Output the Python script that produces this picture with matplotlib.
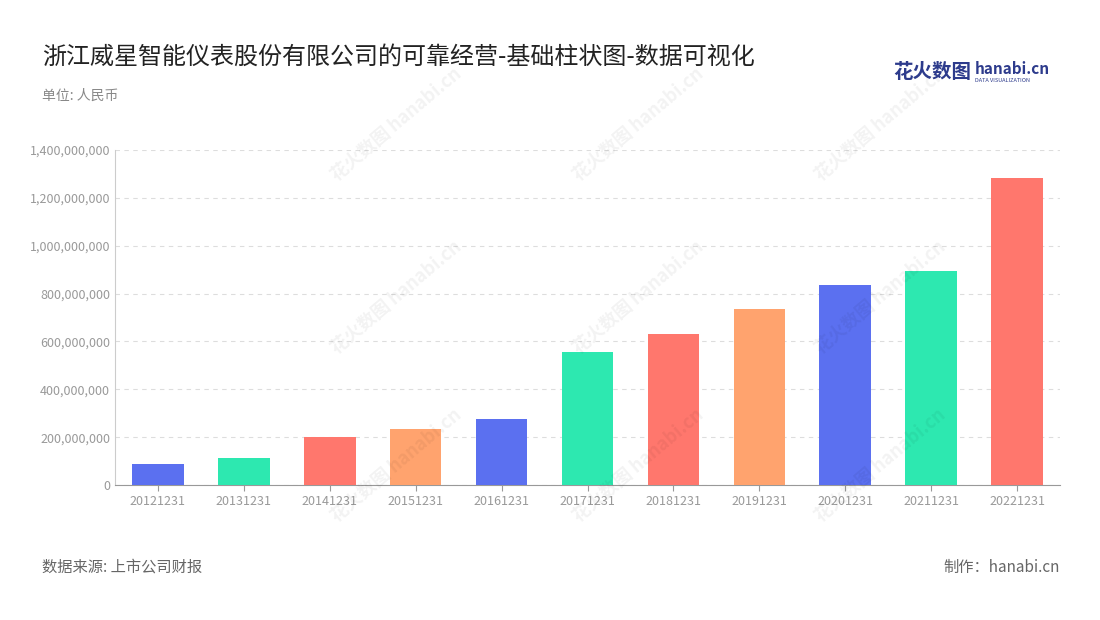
import matplotlib
matplotlib.use("Agg")
import matplotlib.pyplot as plt
from matplotlib.ticker import FuncFormatter

plt.rcParams['font.family'] = ['Noto Sans CJK SC', 'DejaVu Sans']

categories = ["20121231", "20131231", "20141231", "20151231", "20161231", "20171231",
              "20181231", "20191231", "20201231", "20211231", "20221231"]
values = [88e6, 113e6, 200e6, 234e6, 276e6, 556e6, 631e6, 735e6, 836e6, 894e6, 1283e6]
palette = ["#5B70F0", "#2DE8B0", "#FF776D", "#FFA36E"]
colors = [palette[i % 4] for i in range(len(values))]

fig = plt.figure(figsize=(11, 6.2), dpi=100)
ax = fig.add_axes([115/1100, 1-485/620, 945/1100, 335/620])
x = range(len(categories))
ax.bar(x, values, width=0.6, color=colors, zorder=3)
ax.set_xlim(-0.5, len(categories)-0.5)
ax.set_ylim(0, 1.4e9)
ax.set_yticks([i*2e8 for i in range(8)])
ax.yaxis.set_major_formatter(FuncFormatter(lambda v, p: f"{int(v):,}"))
ax.set_xticks(list(x))
ax.set_xticklabels(categories)
ax.tick_params(axis='both', colors='#999999', labelsize=9, length=0)
ax.tick_params(axis='x', length=4, color='#999999')
ax.grid(axis='y', linestyle=(0, (4, 4)), color='#dddddd', zorder=0)
for s in ['top', 'right']:
    ax.spines[s].set_visible(False)
ax.spines['left'].set_color('#cccccc')
ax.spines['bottom'].set_color('#999999')

# watermarks
for wx in [0.38, 0.6, 0.82]:
    for wy in [0.25, 0.52, 0.8]:
        fig.text(wx - 0.02, wy, "花火数图 hanabi.cn", rotation=40, fontsize=13,
                 color='#000000', alpha=0.05, ha='center', va='center', fontweight='bold')

fig.text(42/1100, 1-57/620, "浙江威星智能仪表股份有限公司的可靠经营-基础柱状图-数据可视化",
         fontsize=17.3, color='#222222', va='center')
fig.text(42/1100, 1-96/620, "单位: 人民币", fontsize=10, color='#888888', va='center')
fig.text(893/1100, 1-72/620, "花火数图", fontsize=14, color='#2d3b8c', va='center', fontweight='bold')
fig.text(975/1100, 1-69/620, "hanabi.cn", fontsize=11, color='#2d3b8c', va='center', fontweight='bold')
fig.text(975/1100, 1-80/620, "DATA VISUALIZATION", fontsize=4, color='#2d3b8c', va='center')
fig.text(42/1100, 1-567/620, "数据来源: 上市公司财报", fontsize=11, color='#666666', va='center')
fig.text(1060/1100, 1-567/620, "制作：hanabi.cn", fontsize=11, color='#666666', va='center', ha='right')

fig.savefig("out.png", dpi=100)
